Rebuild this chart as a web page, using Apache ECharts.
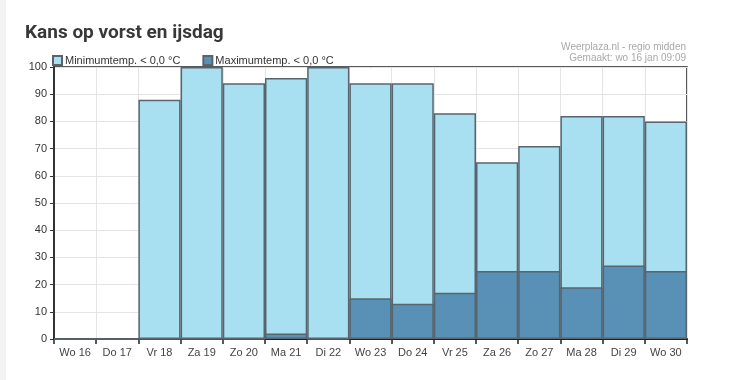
<!DOCTYPE html>
<html>
<head>
<meta charset="utf-8">
<script src="https://cdn.jsdelivr.net/npm/echarts@6/dist/echarts.min.js"></script>
<style>
html,body{margin:0;padding:0;background:#fff;}
#c{width:732px;height:380px;}
</style>
</head>
<body>
<div id="c"></div>
<script>
const categories = ['Wo 16','Do 17','Vr 18','Za 19','Zo 20','Ma 21','Di 22','Wo 23','Do 24','Vr 25','Za 26','Zo 27','Ma 28','Di 29','Wo 30'];
const minTemp = [0, 0, 88, 100, 94, 96, 100, 94, 94, 83, 65, 71, 82, 82, 80];
const maxTemp = [0, 0, 0, 0, 0, 2, 0, 15, 13, 17, 25, 25, 19, 27, 25];
const seriesNames = ['Minimumtemp. < 0,0 °C', 'Maximumtemp. < 0,0 °C'];
const yTicks = {min: 0, max: 100, interval: 10};

const chart = echarts.init(document.getElementById('c'), null, {renderer: 'canvas'});
const txt = '"Liberation Sans", Arial, sans-serif';
chart.setOption({
  backgroundColor: '#ffffff',
  animation: false,
  title: {
    text: 'Kans op vorst en ijsdag',
    left: 20, top: 19,
    textStyle: {fontFamily: 'Roboto, "Liberation Sans", sans-serif', fontSize: 19, fontWeight: 'bold', color: '#383838'}
  },
  graphic: [
    {type: 'rect', left: 0, top: 0, shape: {width: 6, height: 380}, style: {fill: '#f3f3f3'}, silent: true},
    {type: 'text', right: 46, top: 42, style: {text: 'Weerplaza.nl - regio midden', fill: '#a8a8a8', font: '10px ' + txt, textAlign: 'right'}},
    {type: 'text', right: 46, top: 53, style: {text: 'Gemaakt: wo 16 jan 09:09', fill: '#a8a8a8', font: '10px ' + txt, textAlign: 'right'}}
  ],
  legend: {
    left: 47, top: 50,
    itemWidth: 9, itemHeight: 9, itemGap: 22,
    icon: 'rect',
    textStyle: {fontFamily: txt, fontSize: 11, color: '#333', padding: [0,0,0,-2]},
    data: seriesNames
  },
  grid: {left: 54, right: 45, top: 67, bottom: 41, show: true, borderColor: '#222', borderWidth: 1.5},
  xAxis: {
    type: 'category',
    data: categories,
    boundaryGap: true,
    axisLine: {lineStyle: {color: '#222', width: 2}},
    axisTick: {show: true, length: 5, lineStyle: {color: '#222', width: 1.5}},
    axisLabel: {fontFamily: txt, fontSize: 11, color: '#444', margin: 8},
    splitLine: {show: true, lineStyle: {color: '#e4e4e4'}}
  },
  yAxis: {
    type: 'value',
    min: yTicks.min, max: yTicks.max, interval: yTicks.interval,
    axisLine: {show: true, lineStyle: {color: '#333', width: 2}},
    axisTick: {show: true, length: 4, lineStyle: {color: '#333'}},
    axisLabel: {fontFamily: txt, fontSize: 11, color: '#333', margin: 7},
    splitLine: {show: true, lineStyle: {color: '#e4e4e4'}}
  },
  series: [
    {
      name: seriesNames[0], type: 'bar', data: minTemp,
      barGap: '-100%', barCategoryGap: 0,
      itemStyle: {color: '#a8e0f2', borderColor: '#58656e', borderWidth: 1.5}
    },
    {
      name: seriesNames[1], type: 'bar', data: maxTemp,
      barGap: '-100%', barCategoryGap: 0,
      itemStyle: {color: '#5891b5', borderColor: '#58656e', borderWidth: 1.5}
    }
  ]
});
</script>
</body>
</html>
